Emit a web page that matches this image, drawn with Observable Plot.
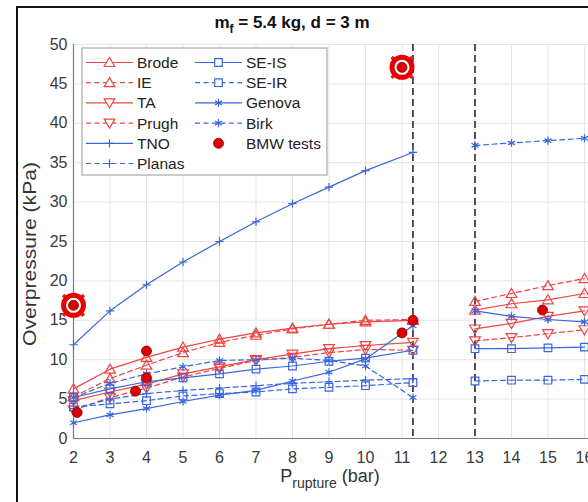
<!DOCTYPE html>
<html><head><meta charset="utf-8">
<script src="https://cdn.jsdelivr.net/npm/d3@7"></script>
<script src="https://cdn.jsdelivr.net/npm/@observablehq/plot@0.6"></script>
<style>
html,body{margin:0;padding:0;background:#fff;overflow:hidden;width:588px;height:502px;}
#wrap{position:relative;width:588px;height:502px;overflow:hidden;}
#frame{position:absolute;left:16px;top:6px;width:620px;height:540px;border:2px solid #111;box-sizing:border-box;pointer-events:none;}
#wrap svg{position:absolute;left:0;top:0;}
</style></head><body><div id="wrap"><div id="frame"></div></div>
<script>
// ---- data ----
const pressureA = [2, 3, 4, 5, 6, 7, 8, 9, 10, 11.3];
const pressureB = [13, 14, 15, 16];

const brodeA  = [6.3, 8.8, 10.3, 11.6, 12.6, 13.4, 14.0, 14.5, 14.8, 15.0];
const brodeB  = [16.3, 17.1, 17.6, 18.4];
const ieA     = [5.3, 7.6, 9.3, 10.9, 12.2, 13.1, 13.9, 14.5, 15.0, 15.1];
const ieB     = [17.4, 18.4, 19.4, 20.3];
const taA     = [4.8, 5.9, 6.9, 8.2, 9.1, 10.0, 10.7, 11.4, 11.8, 12.2];
const taB     = [13.9, 14.6, 15.5, 16.2];
const prughA  = [3.6, 5.2, 6.4, 7.8, 8.9, 9.9, 10.3, 10.9, 11.3, 11.2];
const prughB  = [12.4, 12.8, 13.3, 13.8];
const tnoA    = [11.9, 16.2, 19.5, 22.4, 25.0, 27.5, 29.8, 31.9, 34.0, 36.3];
const tnoB    = [];
const planasA = [3.8, 5.0, 5.7, 6.1, 6.4, 6.7, 7.0, 7.2, 7.4, 7.6];
const planasB = [];
const seisA   = [5.2, 6.3, 7.2, 7.7, 8.2, 8.8, 9.2, 9.8, 10.2, 11.2];
const seisB   = [11.4, 11.4, 11.5, 11.6];
const seirA   = [4.0, 4.4, 4.8, 5.4, 5.7, 5.9, 6.3, 6.5, 6.7, 7.1];
const seirB   = [7.3, 7.4, 7.4, 7.5];
const genovaA = [2.0, 3.0, 3.8, 4.7, 5.5, 6.1, 7.3, 8.4, 10.1, 14.3];
const genovaB = [16.2, 15.5, 15.1, 14.8];
const birkA   = [5.2, 7.0, 8.2, 9.1, 9.9, 10.0, 10.2, 9.9, 9.2, 5.2];
const birkB   = [37.2, 37.5, 37.8, 38.1];

const bmwP  = [2, 2.1, 3.7, 4, 4, 11, 11, 11.3, 14.85];
const bmwOP = [16.9, 3.3, 6.0, 11.1, 7.7, 47.1, 13.4, 15.0, 16.3];
const bmwHighlighted = [true, false, false, false, false, true, false, false, false];

const ruptureLimits = [11.3, 13];
const xTicks = [2,3,4,5,6,7,8,9,10,11,12,13,14,15,16];
const yTicks = [0,5,10,15,20,25,30,35,40,45,50];

const seriesNames = ["Brode","IE","TA","Prugh","TNO","Planas","SE-IS","SE-IR","Genova","Birk"];
const seriesA = [brodeA, ieA, taA, prughA, tnoA, planasA, seisA, seirA, genovaA, birkA];
const seriesB = [brodeB, ieB, taB, prughB, tnoB, planasB, seisB, seirB, genovaB, birkB];

// ---- styles ----
const RED = "#ef4444", BLUE = "#3866e0";
function tri(dir){ return {draw(ctx, size){ const r = Math.sqrt(size/Math.PI);
  ctx.moveTo(0, -dir*r*1.2); ctx.lineTo(r*1.27, dir*r*0.95); ctx.lineTo(-r*1.27, dir*r*0.95); ctx.closePath(); }}; }
const triUp = tri(1), triDown = tri(-1);
const DASH = "5,3.5";
const styles = {
  "Brode":  {color: RED,  dash: null, symbol: triUp,   r: 4.2},
  "IE":     {color: RED,  dash: DASH, symbol: triUp,   r: 4.2},
  "TA":     {color: RED,  dash: null, symbol: triDown, r: 4.2},
  "Prugh":  {color: RED,  dash: DASH, symbol: triDown, r: 4.2},
  "TNO":    {color: BLUE, dash: null, symbol: "plus",  r: 2.8},
  "Planas": {color: BLUE, dash: DASH, symbol: "plus",  r: 2.8},
  "SE-IS":  {color: BLUE, dash: null, symbol: "square", r: 4.3},
  "SE-IR":  {color: BLUE, dash: DASH, symbol: "square", r: 4.3},
  "Genova": {color: BLUE, dash: null, symbol: "asterisk", r: 3.8},
  "Birk":   {color: BLUE, dash: DASH, symbol: "asterisk", r: 3.8}
};

const rows = [];
seriesNames.forEach((name, k) => {
  pressureA.forEach((p, i) => { if (seriesA[k][i] != null) rows.push({name, seg: name + "A", p, v: seriesA[k][i]}); });
  pressureB.forEach((p, i) => { if (seriesB[k][i] != null) rows.push({name, seg: name + "B", p, v: seriesB[k][i]}); });
});
const bmw = bmwP.map((p, i) => ({p, v: bmwOP[i], hi: bmwHighlighted[i]}));
const bmwHi = bmw.filter(d => d.hi);

const marks = [
  Plot.gridX(xTicks, {stroke: "#e4e4e4", strokeOpacity: 1}),
  Plot.gridY(yTicks, {stroke: "#e4e4e4", strokeOpacity: 1}),
  Plot.ruleX([2], {stroke: "#7a7a7a", strokeWidth: 1.2}),
  Plot.ruleY([0], {stroke: "#7a7a7a", strokeWidth: 1.2}),
  Plot.axisX(xTicks, {tickSize: 0, tickPadding: 13, fontSize: 16, fill: "#3a3a3a", tickFormat: d => String(d), label: null}),
  Plot.axisY(yTicks, {tickSize: 0, tickPadding: 6, fontSize: 16, fill: "#3a3a3a", label: null}),
  Plot.ruleX(ruptureLimits, {stroke: "#2a2a2a", strokeWidth: 1.6, strokeDasharray: "7,4"})
];
seriesNames.forEach(name => {
  const s = styles[name];
  const data = rows.filter(d => d.name === name);
  marks.push(Plot.line(data, {x: "p", y: "v", z: "seg", stroke: s.color, strokeWidth: 1.2, strokeDasharray: s.dash || undefined}));
  marks.push(Plot.dot(data, {x: "p", y: "v", symbol: s.symbol, r: s.r, stroke: s.color, strokeWidth: 1.2, fill: "none"}));
});
marks.push(
  Plot.dot(bmwHi, {x: "p", y: "v", symbol: "times", r: 9.5, stroke: "#e81c1c", strokeWidth: 3.5}),
  Plot.dot(bmwHi, {x: "p", y: "v", r: 10, stroke: "#e80000", strokeWidth: 5, fill: "white"}),
  Plot.dot(bmw, {x: "p", y: "v", r: 5, fill: "#dd0000", stroke: "#7a0000", strokeWidth: 0.8})
);

const chart = Plot.plot({
  width: 588, height: 502,
  marginLeft: 73, marginRight: 0, marginTop: 44, marginBottom: 64,
  style: {fontFamily: "'Liberation Sans', Arial, sans-serif", fontSize: "16px", background: "transparent", overflow: "visible"},
  x: {domain: [2, 16.11], label: null},
  y: {domain: [0, 50], label: null},
  marks
});
document.getElementById("wrap").insertBefore(chart, document.getElementById("frame"));

// ---- titles and legend ----
const svg = d3.select(chart);
const font = "'Liberation Sans', Arial, sans-serif";
const title = svg.append("text").attr("x", 292).attr("y", 28).attr("text-anchor", "middle")
  .attr("font-family", font).attr("font-size", 17).attr("font-weight", "bold").attr("fill", "#111");
title.append("tspan").text("m");
title.append("tspan").attr("font-size", 12).attr("dy", 5).text("f");
title.append("tspan").attr("dy", -5).text(" = 5.4 kg, d = 3 m");

const xl = svg.append("text").attr("x", 330).attr("y", 482).attr("text-anchor", "middle")
  .attr("font-family", font).attr("font-size", 18).attr("fill", "#333");
xl.append("tspan").text("P");
xl.append("tspan").attr("font-size", 14).attr("dy", 6).text("rupture");
xl.append("tspan").attr("dy", -6).text(" (bar)");

svg.append("text").attr("transform", "translate(36,254) rotate(-90)").attr("text-anchor", "middle")
  .attr("font-family", font).attr("font-size", 19).attr("fill", "#333")
  .attr("textLength", 184).attr("lengthAdjust", "spacingAndGlyphs").text("Overpressure (kPa)");

const lg = svg.append("g").attr("text-anchor", "start");
lg.append("rect").attr("x", 82).attr("y", 48).attr("width", 245).attr("height", 127)
  .attr("fill", "white").attr("stroke", "#a8a8a8").attr("stroke-width", 1.2);
const legendCols = [["Brode","IE","TA","Prugh","TNO","Planas"], ["SE-IS","SE-IR","Genova","Birk","BMW tests"]];
const colX = [86, 195], rowY0 = 62.5, rowH = 20.2;
legendCols.forEach((col, ci) => {
  col.forEach((name, ri) => {
    const y = rowY0 + ri * rowH, x0 = colX[ci], xm = x0 + 23.5;
    if (name === "BMW tests") {
      lg.append("circle").attr("cx", xm).attr("cy", y).attr("r", 5).attr("fill", "#dd0000").attr("stroke", "#7a0000").attr("stroke-width", 0.8);
    } else {
      const s = styles[name];
      lg.append("line").attr("x1", x0).attr("x2", x0 + 47).attr("y1", y).attr("y2", y)
        .attr("stroke", s.color).attr("stroke-width", 1.2).attr("stroke-dasharray", s.dash);
      const typeMap = {plus: d3.symbolPlus, square: d3.symbolSquare, asterisk: d3.symbolAsterisk};
      const type = typeof s.symbol === "string" ? typeMap[s.symbol] : s.symbol;
      lg.append("path").attr("d", d3.symbol(type, Math.PI * s.r * s.r)())
        .attr("transform", `translate(${xm},${y})`).attr("fill", "white").attr("stroke", s.color).attr("stroke-width", 1.2);
    }
    lg.append("text").attr("x", x0 + 51).attr("y", y).attr("dy", "0.35em").attr("text-anchor", "start")
      .attr("font-family", font).attr("font-size", 15.5).attr("fill", "#222").text(name);
  });
});
</script></body></html>
